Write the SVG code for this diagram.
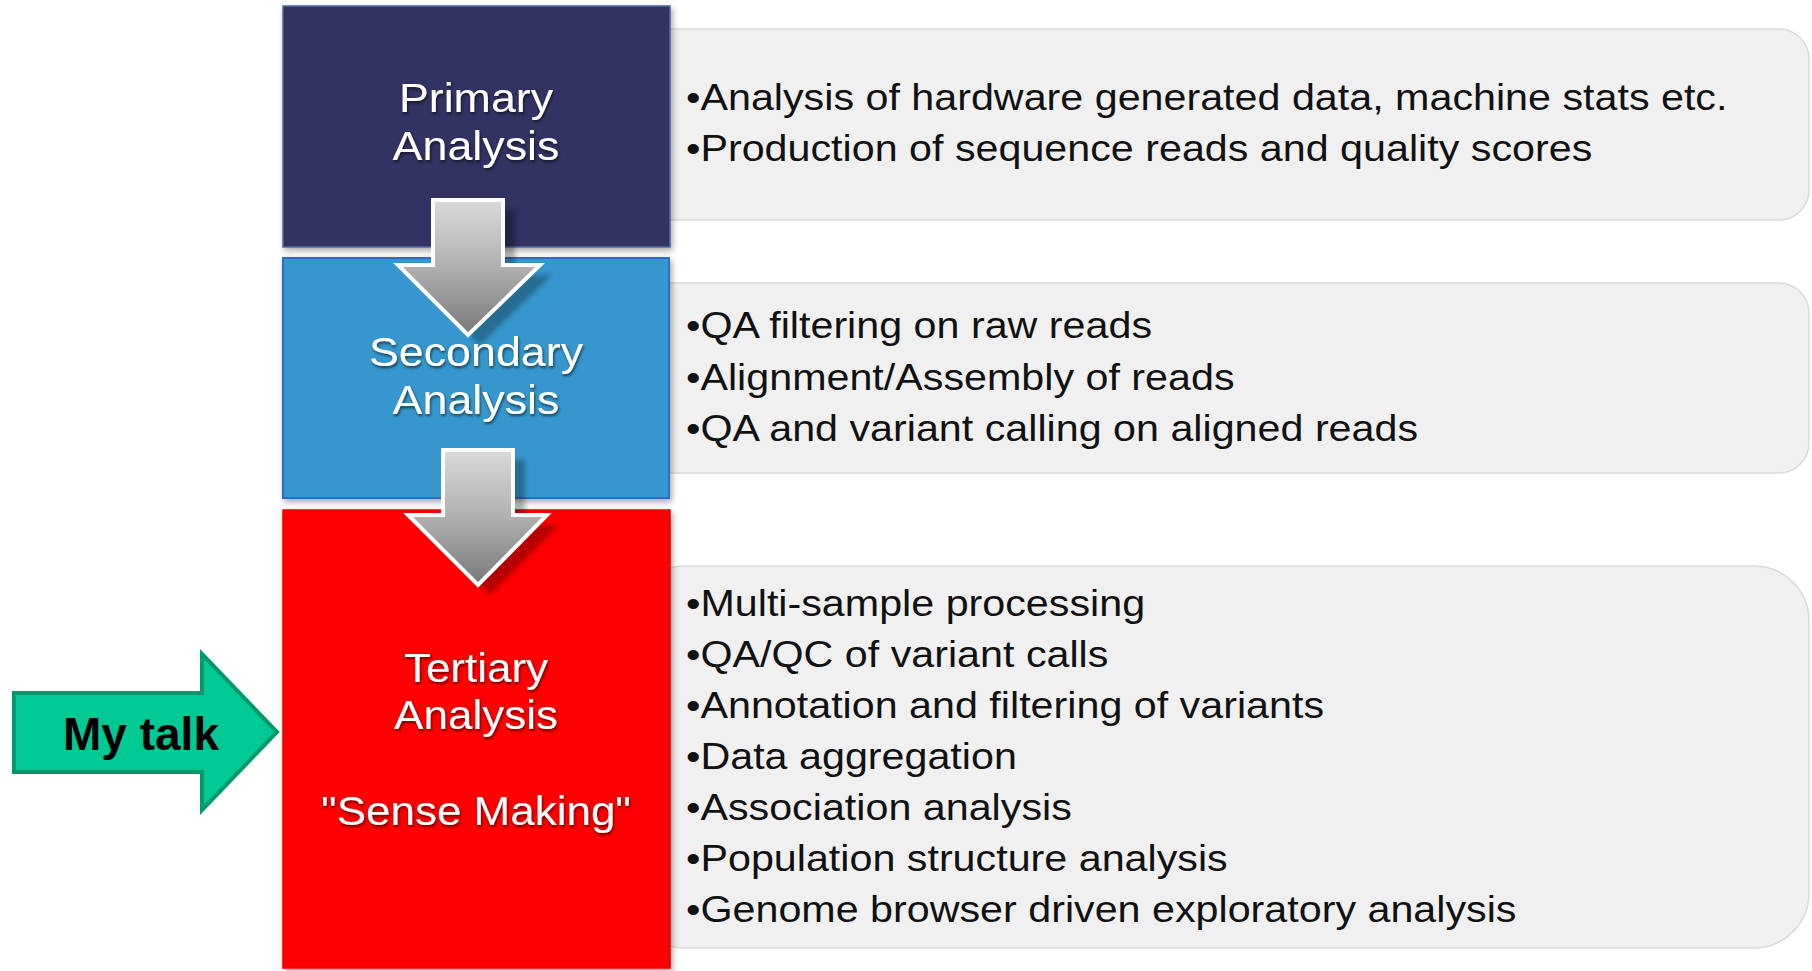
<svg xmlns="http://www.w3.org/2000/svg" width="1812" height="971" viewBox="0 0 1812 971">
<style>
.panel{fill:#f0f0f0;stroke:#dadada;stroke-width:1.5}
.item{font-family:"Liberation Sans",Arial,sans-serif;font-size:37px;fill:#111}
.lbl{font-family:"Liberation Sans",Arial,sans-serif;font-size:40px;fill:#fff;text-anchor:middle}
.garrow{fill:url(#grayGrad);stroke:#fff;stroke-width:4;stroke-linejoin:miter}
.gshadow{fill:#000;opacity:0.28}
</style>
<defs>
<linearGradient id="grayGrad" x1="0" y1="0" x2="0" y2="1">
<stop offset="0" stop-color="#dadada"/>
<stop offset="0.5" stop-color="#b0b0b0"/>
<stop offset="1" stop-color="#787878"/>
</linearGradient>
<filter id="boxShadow" x="-5%" y="-5%" width="112%" height="112%">
<feGaussianBlur in="SourceAlpha" stdDeviation="3"/>
<feOffset dx="2" dy="3" result="b"/>
<feComponentTransfer><feFuncA type="linear" slope="0.35"/></feComponentTransfer>
<feMerge><feMergeNode/><feMergeNode in="SourceGraphic"/></feMerge>
</filter>
<filter id="txtGlow" x="-10%" y="-20%" width="120%" height="140%">
<feGaussianBlur in="SourceAlpha" stdDeviation="1.5"/>
<feOffset dx="1" dy="1.5"/>
<feComponentTransfer><feFuncA type="linear" slope="0.6"/></feComponentTransfer>
<feMerge><feMergeNode/><feMergeNode in="SourceGraphic"/></feMerge>
</filter>
<filter id="blur2"><feGaussianBlur stdDeviation="2.5"/></filter>
</defs>
<rect width="1812" height="971" fill="#fff"/>

<g id="panel-primary">
<rect class="panel" x="630" y="29" width="1179" height="191" rx="30" ry="30"/>
<text class="item" transform="translate(686 110) scale(1.115 1)">•Analysis of hardware generated data, machine stats etc.</text>
<text class="item" transform="translate(686 161) scale(1.115 1)">•Production of sequence reads and quality scores</text>
</g>
<g id="panel-secondary">
<rect class="panel" x="630" y="283" width="1179" height="190" rx="30" ry="30"/>
<text class="item" transform="translate(686 338) scale(1.115 1)">•QA filtering on raw reads</text>
<text class="item" transform="translate(686 390) scale(1.115 1)">•Alignment/Assembly of reads</text>
<text class="item" transform="translate(686 441) scale(1.115 1)">•QA and variant calling on aligned reads</text>
</g>
<g id="panel-tertiary">
<rect class="panel" x="630" y="566" width="1179" height="382" rx="55" ry="55"/>
<text class="item" transform="translate(686 616) scale(1.115 1)">•Multi-sample processing</text>
<text class="item" transform="translate(686 667) scale(1.115 1)">•QA/QC of variant calls</text>
<text class="item" transform="translate(686 718) scale(1.115 1)">•Annotation and filtering of variants</text>
<text class="item" transform="translate(686 769) scale(1.115 1)">•Data aggregation</text>
<text class="item" transform="translate(686 820) scale(1.115 1)">•Association analysis</text>
<text class="item" transform="translate(686 871) scale(1.115 1)">•Population structure analysis</text>
<text class="item" transform="translate(686 922) scale(1.115 1)">•Genome browser driven exploratory analysis</text>
</g>

<g id="box-primary">
<rect x="283" y="6" width="387" height="241" fill="#333364" stroke="#4b6a9e" stroke-width="1.5" filter="url(#boxShadow)"/>
</g>
<g id="box-secondary">
<rect x="283" y="258" width="386" height="240" fill="#3497cd" stroke="#2f6cc4" stroke-width="2" filter="url(#boxShadow)"/>
</g>
<g id="box-tertiary">
<rect x="283" y="510" width="387" height="458" fill="#fe0000" stroke="#e80000" stroke-width="1.5" filter="url(#boxShadow)"/>
</g>

<g id="connectors">
<g id="arrow-1">
<path class="gshadow" filter="url(#blur2)" d="M445 210 H515 V275 H552 L480 345 L410 275 H445 Z"/>
<path class="garrow" d="M433 200 H503 V265 H540 L468 335 L398 265 H433 Z"/>
</g>
<g id="arrow-2">
<path class="gshadow" filter="url(#blur2)" d="M455 460 H525 V525 H559 L490 595 L420 525 H455 Z"/>
<path class="garrow" d="M443 450 H513 V515 H547 L478 585 L408 515 H443 Z"/>
</g>
</g>

<g id="labels">
<g id="label-primary" filter="url(#txtGlow)">
<text class="lbl" transform="translate(476 112) scale(1.12 1)">Primary</text>
<text class="lbl" transform="translate(476 160) scale(1.12 1)">Analysis</text>
</g>
<g id="label-secondary" filter="url(#txtGlow)">
<text class="lbl" transform="translate(476 366) scale(1.12 1)">Secondary</text>
<text class="lbl" transform="translate(476 414) scale(1.12 1)">Analysis</text>
</g>
<g id="label-tertiary" filter="url(#txtGlow)">
<text class="lbl" transform="translate(476 682) scale(1.1 1)">Tertiary</text>
<text class="lbl" transform="translate(476 729) scale(1.1 1)">Analysis</text>
<text class="lbl" transform="translate(476 825) scale(1.1 1)">"Sense Making"</text>
</g>
</g>

<g id="my-talk">
<path d="M14 693 H202 V654 L277 732 L202 810 V772 H14 Z" fill="#00c994" stroke="#00986f" stroke-width="4" stroke-linejoin="miter"/>
<text x="141" y="750" text-anchor="middle" font-family="Liberation Sans,Arial,sans-serif" font-weight="bold" font-size="46" fill="#000">My talk</text>
</g>
</svg>
